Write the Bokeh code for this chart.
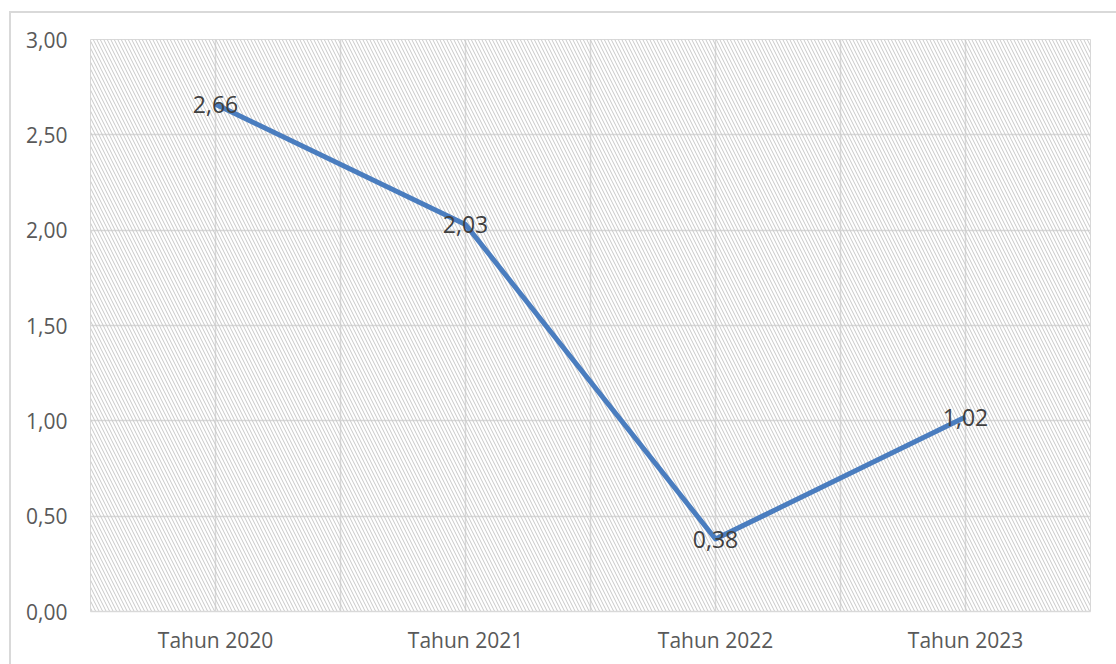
from bokeh.plotting import figure
from bokeh.models import (ColumnDataSource, FixedTicker, Range1d, BoxAnnotation,
                          LabelSet, CustomJSTickFormatter)
from bokeh.core.properties import value
from bokeh.embed import file_html
from bokeh.resources import INLINE

# Data
categories = ["Tahun 2020", "Tahun 2021", "Tahun 2022", "Tahun 2023"]
values = [2.66, 2.03, 0.38, 1.02]
y_ticks = [0.0, 0.5, 1.0, 1.5, 2.0, 2.5, 3.0]

xs = [i + 0.5 for i in range(len(categories))]
labels = [f"{v:.2f}".replace(".", ",") for v in values]
src = ColumnDataSource(dict(x=xs, y=values, label=labels))

FONT = "Open Sans"
GRID = "#d9d9d9"

# Chart sits inside a light border (left/top edges visible)
p = figure(width=1105, height=651, output_backend="svg", toolbar_location=None,
           x_range=Range1d(0, len(categories)), y_range=Range1d(0, 3.0),
           min_border_left=79, min_border_right=28, min_border_top=26,
           min_border_bottom=55)
p.margin = (11, 0, 0, 9)
p.styles = {"border-left": "2px solid #d9d9d9", "border-top": "2px solid #d9d9d9",
            "box-sizing": "content-box"}
p.background_fill_color = "white"
p.border_fill_color = "white"
p.outline_line_color = GRID
p.outline_line_width = 1

# Hatched plot area
p.add_layout(BoxAnnotation(left=0, right=len(categories), bottom=0, top=3.0,
                           fill_alpha=0, line_alpha=0,
                           hatch_pattern="left_diagonal_line", hatch_color="#c8c8c8",
                           hatch_scale=7, hatch_weight=1, level="underlay"))

# Grid
p.ygrid.ticker = FixedTicker(ticks=y_ticks)
p.ygrid.grid_line_color = GRID
p.ygrid.grid_line_width = 1.5
grid_x = [i * 0.5 for i in range(1, 2 * len(categories))]
p.xgrid.ticker = FixedTicker(ticks=grid_x)
p.xgrid.grid_line_color = GRID
p.xgrid.grid_line_width = 1.5

# Axes
p.xaxis.ticker = FixedTicker(ticks=xs)
p.xaxis.major_label_overrides = {x: c for x, c in zip(xs, categories)}
p.yaxis.ticker = FixedTicker(ticks=y_ticks)
p.yaxis.formatter = CustomJSTickFormatter(code="return tick.toFixed(2).replace('.', ',');")
for ax in (p.xaxis[0], p.yaxis[0]):
    ax.major_tick_line_color = None
    ax.minor_tick_line_color = None
    ax.major_label_text_font = FONT
    ax.major_label_text_font_size = "21px"
    ax.major_label_text_color = "#595959"
p.xaxis.axis_line_color = GRID
p.xaxis.axis_line_width = 1.5
p.xaxis.major_label_standoff = 8
p.yaxis.axis_line_color = None
p.yaxis.major_label_standoff = 17

# Line
p.line("x", "y", source=src, line_color="#4A7DBF", line_width=5, line_join="round")

# Data labels centred on points
p.add_layout(LabelSet(x="x", y="y", text="label", source=src,
                      text_align="center", text_baseline="middle",
                      text_font=value(FONT), text_font_size="23px",
                      text_color="#404040"))

open("out.html", "w").write(file_html(p, INLINE))
